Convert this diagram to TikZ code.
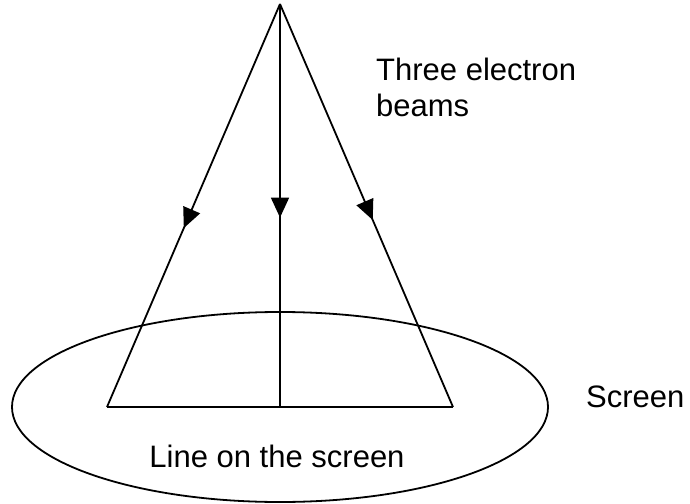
\documentclass[tikz,border=0pt]{standalone}
\usepackage{fontspec}
\setmainfont{Liberation Sans}
\usetikzlibrary{arrows.meta,decorations.markings,shapes.geometric}
\tikzset{
  beam/.style={line width=1.8bp, draw=black},
  tipat/.style={postaction={decorate},decoration={markings,
     mark=at position #1 with {\arrow{Triangle[length=20bp,width=18bp]}}}},
  lbl/.style={font=\fontsize{31bp}{36bp}\selectfont, inner sep=0pt, text=black},
}
\begin{document}
\begin{tikzpicture}[x=1bp,y=-1bp]
\useasboundingbox (0,0) rectangle (690,504);
\coordinate (A) at (280,4);
\coordinate (L) at (107,407);
\coordinate (M) at (280,407);
\coordinate (R) at (453,407);
\node[draw, line width=1.8bp, ellipse, minimum width=536bp, minimum height=190bp, inner sep=0pt] (scr) at (280,407) {};
\draw[beam, tipat=0.556] (A) -- (L);
\draw[beam, tipat=0.53] (A) -- (M);
\draw[beam, tipat=0.536] (A) -- (R);
\draw[beam] (L) -- (R);
\node[lbl, anchor=base west] (t1) at (376,81) {Three electron};
\node[lbl, anchor=base west] (t2) at (376,117) {beams};
\node[lbl, anchor=base west] (s) at (586,407) {Screen};
\node[lbl, anchor=base] (los) at (277,467) {Line on the screen};
\end{tikzpicture}
\end{document}
